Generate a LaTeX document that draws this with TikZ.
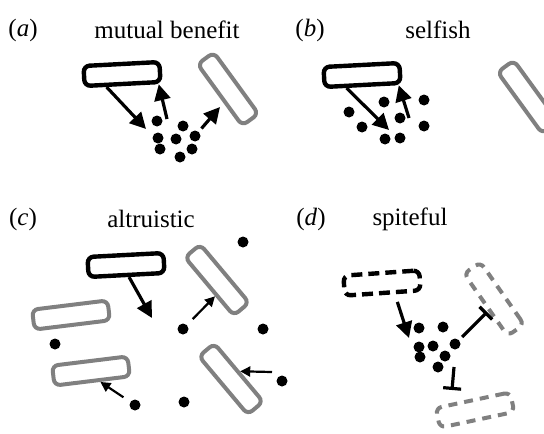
\documentclass[tikz,border=0pt]{standalone}
\usepackage{fontspec}
\setmainfont{Liberation Serif}
\usetikzlibrary{arrows.meta, calc}

\begin{document}
\begin{tikzpicture}[x=0.5pt, y=-0.5pt,
    actor/.style={rectangle, rounded corners=3pt, draw, line width=2.2pt, minimum width=38pt, minimum height=10pt, inner sep=0pt},
    other/.style={actor, draw=black!50, line width=2pt},
    dactor/.style={actor, dash pattern=on 5.5pt off 3pt},
    dother/.style={other, dash pattern=on 4.5pt off 3.5pt},
    dot/.style={circle, fill, inner sep=0pt, minimum size=5.5pt},
    big/.style={line width=1.6pt, -{Triangle[length=8pt, width=8pt]}},
    small/.style={line width=1.1pt, -{Triangle[length=5pt, width=5pt]}},
    block/.style={line width=1.6pt, -{Bar[width=9pt]}},
    title/.style={font=\fontsize{12.5}{14}\selectfont}
]
\useasboundingbox (0,0) rectangle (544,433);

% (a) mutual benefit
\node[title] (la) at (23,30) {(\textit{a})};
\node[title] (ta) at (167,30) {mutual benefit};
\node[actor, rotate=3] (ra) at (122,74) {};
\node[other, rotate=-54] (ga) at (228,89) {};
\foreach \p [count=\i] in {(157,121),(183,126),(158,138),(176,139),(195,136),(160,149),(192,149),(180,157)}
    \node[dot] (a\i) at \p {};
\coordinate (a-in) at (146,129);
\coordinate (a-up) at (167,119);
\coordinate (a-out) at (220,107);
\draw[big] ($(ra.south west)!0.3!(ra.south east)$) -- (a-in);
\draw[big] (a-up) -- ($(ra.south west)!0.95!(ra.south east)$);
\draw[big, shorten <=2pt] (a5) -- (a-out);

% (b) selfish
\node[title] (lb) at (310,30) {(\textit{b})};
\node[title] (tb) at (438,30) {selfish};
\node[actor, rotate=3] (rb) at (362,75) {};
\node[other, rotate=-54] (gb) at (528,97) {};
\foreach \p [count=\i] in {(349,112),(384,102),(424,100),(362,127),(400,118),(424,126),(385,139),(400,138)}
    \node[dot] (b\i) at \p {};
\coordinate (b-in) at (389,130);
\coordinate (b-up) at (409,118);
\draw[big] ($(rb.south west)!0.3!(rb.south east)$) -- (b-in);
\draw[big] (b-up) -- ($(rb.south west)!0.95!(rb.south east)$);

% (c) altruistic
\node[title] (lc) at (23,219) {(\textit{c})};
\node[title] (tc) at (151,219) {altruistic};
\node[actor, rotate=3] (rc) at (126,265) {};
\node[other, rotate=7] (gc1) at (71,315) {};
\node[other, rotate=7] (gc2) at (91,371) {};
\node[other, rotate=-50] (gc3) at (217,280) {};
\node[other, rotate=-50] (gc4) at (231,379) {};
\foreach \p [count=\i] in {(243,242),(55,344),(183,329),(263,329),(135,405),(184,402),(282,381)}
    \node[dot] (c\i) at \p {};
\coordinate (c-in) at (152,318);
\coordinate (c-from) at (272,372);
\draw[big] ($(rc.south west)!0.53!(rc.south east)$) -- (c-in);
\draw[small, shorten <=4pt] (c3) -- ($(gc3.south)!0.28!(gc3.south east)$);
\draw[small, shorten <=4pt] (c5) -- ($(gc2.south)!0.2!(gc2.south east)$);
\draw[small] (c-from) -- (gc4.north);

% (d) spiteful
\node[title] (ld) at (311,219) {(\textit{d})};
\node[title] (td) at (410,219) {spiteful};
\node[dactor, rotate=4] (rd) at (382,283) {};
\node[dother, rotate=-55] (gd1) at (494,299) {};
\node[dother, rotate=12] (gd2) at (475,410) {};
\foreach \p [count=\i] in {(419,328),(443,327),(419,347),(433,346),(455,344),(420,357),(445,356),(438,367)}
    \node[dot] (d\i) at \p {};
\coordinate (d-in) at (409,338);
\coordinate (d-bar1) at (487,312);
\coordinate (d-from) at (454,367);
\coordinate (d-bar2) at (452,390);
\draw[big, shorten <=4pt] ($(rd.south west)!0.65!(rd.south east)$) -- (d-in);
\draw[block, shorten <=2pt] (d5) -- (d-bar1);
\draw[block] (d-from) -- (d-bar2);
\end{tikzpicture}
\end{document}
